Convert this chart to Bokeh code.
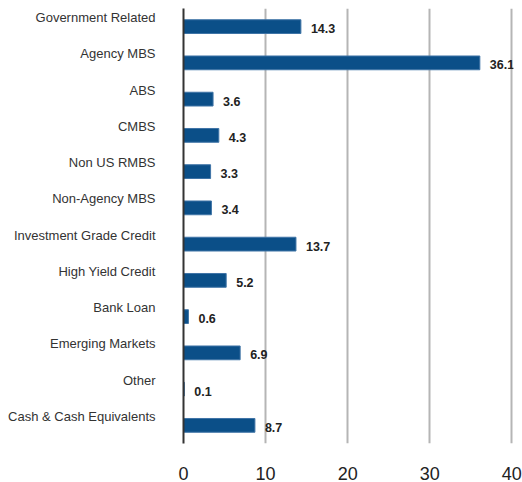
from bokeh.plotting import figure
from bokeh.models import ColumnDataSource, Range1d, FixedTicker
from bokeh.core.properties import value
from bokeh.embed import file_html
from bokeh.resources import INLINE

categories = ["Government Related", "Agency MBS", "ABS", "CMBS", "Non US RMBS",
              "Non-Agency MBS", "Investment Grade Credit", "High Yield Credit",
              "Bank Loan", "Emerging Markets", "Other", "Cash & Cash Equivalents"]
values = [14.3, 36.1, 3.6, 4.3, 3.3, 3.4, 13.7, 5.2, 0.6, 6.9, 0.1, 8.7]
x_ticks = [0, 10, 20, 30, 40]

n = len(categories)
label_pos = [n - i for i in range(n)]          # category label rows
bar_pos = [k - 0.25 for k in label_pos]         # bars sit a little below their labels

src = ColumnDataSource(dict(
    cat=categories, val=values, y=bar_pos,
    txt=[f"{v:.1f}" for v in values],
))

p = figure(width=522, height=482, output_backend="svg", toolbar_location=None,
           x_range=Range1d(0, 40.2), y_range=Range1d(0.25, n + 0.25),
           min_border_left=183, min_border_right=9, min_border_top=8,
           min_border_bottom=35)
p.outline_line_color = None
p.background_fill_color = "white"

p.hbar(y="y", right="val", left=0, height=0.38, source=src,
       fill_color="#0b4f88", line_color="#3f74a6", line_width=1)

p.text(x="val", y="y", text="txt", source=src, x_offset=10, y_offset=2,
       text_font=value("Liberation Sans"), text_font_style="bold",
       text_font_size="12.5px", text_color="#222222",
       text_baseline="middle", text_align="left")

# y axis: category labels
p.yaxis.ticker = FixedTicker(ticks=label_pos)
p.yaxis.major_label_overrides = {k: c for k, c in zip(label_pos, categories)}
p.yaxis.major_tick_in = 0
p.yaxis.major_tick_out = 0
p.yaxis.minor_tick_line_color = None
p.yaxis.major_label_standoff = 28
p.yaxis.major_label_text_font = "Liberation Sans"
p.yaxis.major_label_text_font_size = "13px"
p.yaxis.major_label_text_color = "#333333"
p.yaxis.axis_line_color = "#333333"
p.yaxis.axis_line_width = 2
p.ygrid.grid_line_color = None

# x axis
p.xaxis.ticker = FixedTicker(ticks=x_ticks)
p.xaxis.axis_line_color = None
p.xaxis.major_tick_line_color = None
p.xaxis.minor_tick_line_color = None
p.xaxis.major_label_standoff = 17
p.xaxis.major_label_text_font = "Liberation Sans"
p.xaxis.major_label_text_font_size = "18px"
p.xaxis.major_label_text_color = "#222222"
p.xgrid.ticker = FixedTicker(ticks=x_ticks)
p.xgrid.grid_line_color = "#b5b5b5"
p.xgrid.grid_line_width = 2

open("out.html", "w").write(file_html(p, INLINE))
